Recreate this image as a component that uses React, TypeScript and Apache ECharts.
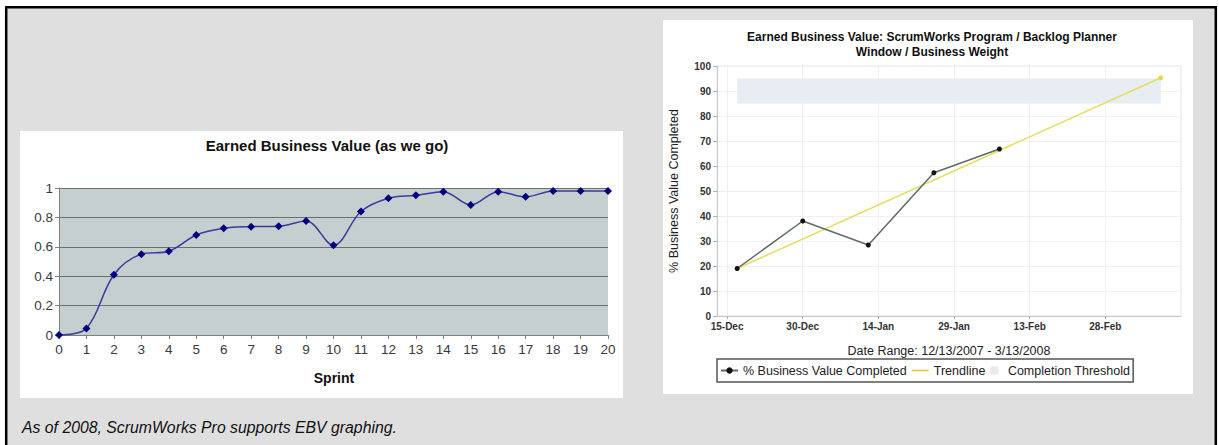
import React, { useEffect, useRef } from "react";
import * as echarts from "echarts";

// ---------- Left chart data ----------
const sprints = [0, 1, 2, 3, 4, 5, 6, 7, 8, 9, 10, 11, 12, 13, 14, 15, 16, 17, 18, 19, 20];
const earnedValue = [0, 0.045, 0.41, 0.55, 0.57, 0.68, 0.726, 0.737, 0.74, 0.776, 0.61, 0.84, 0.93, 0.95, 0.975, 0.885, 0.975, 0.94, 0.98, 0.98, 0.98];

// ---------- Right chart data ----------
const rangeStart = "2007-12-13";
const rangeEnd = "2008-03-14";
const ebvDates = ["2007-12-17", "2007-12-30", "2008-01-12", "2008-01-25", "2008-02-07"];
const ebvValues = [19, 38, 28.4, 57.3, 66.8];
const trendDates = ["2007-12-17", "2008-03-10"];
const trendValues = [19, 95.3];
const thresholdRange = [85, 95];
const xTickDates = ["2007-12-15", "2007-12-30", "2008-01-14", "2008-01-29", "2008-02-13", "2008-02-28"];
const xTickLabels = ["15-Dec", "30-Dec", "14-Jan", "29-Jan", "13-Feb", "28-Feb"];

const FONT = "'Liberation Sans', Arial, sans-serif";

function dayOf(s: string): number {
  const [y, m, d] = s.split("-").map(Number);
  const [y0, m0, d0] = rangeStart.split("-").map(Number);
  return (Date.UTC(y, m - 1, d) - Date.UTC(y0, m0 - 1, d0)) / 86400000;
}

export default function App() {
  const ref = useRef<HTMLDivElement>(null);

  useEffect(() => {
    if (!ref.current) return;
    const chart = echarts.init(ref.current, undefined, { renderer: "svg" });

    const tickDays = xTickDates.map(dayOf);
    const labelFor = (v: number) => {
      const i = tickDays.findIndex((t) => Math.abs(t - v) < 0.01);
      return i >= 0 ? xTickLabels[i] : "";
    };
    const trendData = trendDates.map((d, i) => [dayOf(d), trendValues[i]]);

    const option: any = {
      animation: false,
      backgroundColor: "#ffffff",
      textStyle: { fontFamily: FONT },
      graphic: [
        {
          type: "rect",
          z: -10,
          shape: { x: 6.2, y: 7.2, width: 1209.6, height: 500 },
          style: { fill: "#dfdfdf", stroke: "#000", lineWidth: 2.5 },
        },
        {
          type: "rect",
          z: -9,
          shape: { x: 20, y: 131, width: 603, height: 267 },
          style: { fill: "#ffffff" },
        },
        {
          type: "rect",
          z: -9,
          shape: { x: 663, y: 20, width: 530, height: 374 },
          style: { fill: "#ffffff" },
        },
        {
          type: "text",
          x: 327,
          y: 145,
          style: {
            text: "Earned Business Value (as we go)",
            fontFamily: FONT,
            fontWeight: "bold",
            fontSize: 15,
            fill: "#111",
            align: "center",
            verticalAlign: "middle",
          },
        },
        {
          type: "text",
          x: 334,
          y: 378,
          style: {
            text: "Sprint",
            fontFamily: FONT,
            fontWeight: "bold",
            fontSize: 14,
            fill: "#111",
            align: "center",
            verticalAlign: "middle",
          },
        },
        {
          type: "text",
          x: 932,
          y: 44.5,
          style: {
            text: "Earned Business Value: ScrumWorks Program / Backlog Planner\nWindow / Business Weight",
            fontFamily: FONT,
            fontWeight: "bold",
            fontSize: 12,
            lineHeight: 15,
            fill: "#111",
            align: "center",
            verticalAlign: "middle",
          },
        },
        {
          type: "text",
          x: 22,
          y: 427,
          style: {
            text: "As of 2008, ScrumWorks Pro supports EBV graphing.",
            fontFamily: FONT,
            fontStyle: "italic",
            fontSize: 15.8,
            fill: "#111",
            align: "left",
            verticalAlign: "middle",
          },
        },
      ],
      grid: [
        {
          left: 59,
          top: 188,
          width: 549,
          height: 147,
          show: true,
          backgroundColor: "#c6cfcf",
          borderWidth: 0,
        },
        {
          left: 717,
          top: 66,
          width: 464,
          height: 250,
          show: true,
          backgroundColor: "#ffffff",
          borderColor: "#e4e4e4",
          borderWidth: 1,
        },
      ],
      xAxis: [
        {
          gridIndex: 0,
          type: "value",
          min: 0,
          max: 20,
          interval: 1,
          axisLine: { show: true, lineStyle: { color: "#808080", width: 1 } },
          axisTick: { show: true, length: 4, lineStyle: { color: "#808080" } },
          axisLabel: { color: "#3a3a3a", fontSize: 13.5, margin: 7, fontFamily: FONT },
          splitLine: { show: false },
        },
        {
          gridIndex: 1,
          type: "value",
          min: dayOf(rangeStart),
          max: dayOf(rangeEnd),
          name: "Date Range: 12/13/2007 - 3/13/2008",
          nameLocation: "middle",
          nameGap: 28,
          nameTextStyle: { fontSize: 12.5, color: "#222", fontFamily: FONT },
          axisLine: { show: true, lineStyle: { color: "#c8c8c8", width: 1 } },
          axisTick: {
            show: true,
            length: 3,
            customValues: tickDays,
            lineStyle: { color: "#b0b0b0" },
          },
          axisLabel: {
            customValues: tickDays,
            formatter: (v: number) => labelFor(v),
            color: "#333",
            fontSize: 10,
            fontWeight: "bold",
            margin: 5,
            fontFamily: FONT,
          },
          splitLine: { show: true, lineStyle: { color: "#f0f0f0", width: 1 } },
        },
      ],
      yAxis: [
        {
          gridIndex: 0,
          type: "value",
          min: 0,
          max: 1,
          interval: 0.2,
          axisLine: { show: true, lineStyle: { color: "#808080", width: 1 } },
          axisTick: { show: true, length: 4, lineStyle: { color: "#808080" } },
          axisLabel: { color: "#3a3a3a", fontSize: 13.5, margin: 6, fontFamily: FONT },
          splitLine: { show: true, lineStyle: { color: "#6e6e6e", width: 1 } },
        },
        {
          gridIndex: 1,
          type: "value",
          min: 0,
          max: 100,
          interval: 10,
          name: "% Business Value Completed",
          nameLocation: "middle",
          nameGap: 37,
          nameTextStyle: { fontSize: 12.5, color: "#222", fontFamily: FONT },
          axisLine: { show: true, lineStyle: { color: "#c8c8c8", width: 1 } },
          axisTick: { show: true, length: 4, lineStyle: { color: "#b0b0b0" } },
          axisLabel: {
            color: "#333",
            fontSize: 10,
            fontWeight: "bold",
            margin: 6,
            fontFamily: FONT,
          },
          splitLine: { show: true, lineStyle: { color: "#f0f0f0", width: 1 } },
        },
      ],
      legend: {
        left: 717,
        top: 359,
        orient: "horizontal",
        selectedMode: false,
        borderColor: "#555",
        borderWidth: 1.5,
        padding: [5, 3, 5, 3],
        itemGap: 5,
        itemWidth: 17,
        itemHeight: 8,
        textStyle: { fontSize: 12.5, color: "#222", fontFamily: FONT },
        data: [
          { name: "% Business Value Completed" },
          {
            name: "Trendline",
            icon: "path://M0,0L16,0L16,1.5L0,1.5Z",
            itemStyle: { color: "#efc34a" },
          },
          {
            name: "Completion Threshold",
            icon: "path://M0,0L8,0L8,8L0,8Z",
            itemStyle: { color: "#eaeaea" },
          },
        ],
      },
      series: [
        {
          name: "Earned Business Value",
          type: "line",
          xAxisIndex: 0,
          yAxisIndex: 0,
          data: sprints.map((s, i) => [s, earnedValue[i]]),
          smooth: 0.35,
          symbol: "diamond",
          symbolSize: 8,
          itemStyle: { color: "#00007f" },
          lineStyle: { color: "#3a3a9c", width: 1.5 },
          z: 3,
        },
        {
          name: "Completion Threshold",
          type: "line",
          xAxisIndex: 1,
          yAxisIndex: 1,
          data: [],
          itemStyle: { color: "#eaeaea" },
          markArea: {
            silent: true,
            itemStyle: { color: "#e8edf3" },
            data: [
              [
                { coord: [trendData[0][0], thresholdRange[0]] },
                { coord: [trendData[trendData.length - 1][0], thresholdRange[1]] },
              ],
            ],
          },
          z: 1,
        },
        {
          name: "Trendline",
          type: "line",
          xAxisIndex: 1,
          yAxisIndex: 1,
          data: trendData,
          symbol: "circle",
          symbolSize: 5,
          itemStyle: { color: "#e8d84a" },
          lineStyle: { color: "#e6de5e", width: 1.5 },
          z: 2,
        },
        {
          name: "% Business Value Completed",
          type: "line",
          xAxisIndex: 1,
          yAxisIndex: 1,
          data: ebvDates.map((d, i) => [dayOf(d), ebvValues[i]]),
          symbol: "circle",
          symbolSize: 5,
          itemStyle: { color: "#111" },
          lineStyle: { color: "#5f6b6b", width: 1.5 },
          z: 3,
        },
      ],
    };

    chart.setOption(option);
    return () => chart.dispose();
  }, []);

  return (
    <div
      ref={ref}
      style={{ position: "absolute", left: 0, top: 0, width: 1219, height: 445 }}
    />
  );
}
